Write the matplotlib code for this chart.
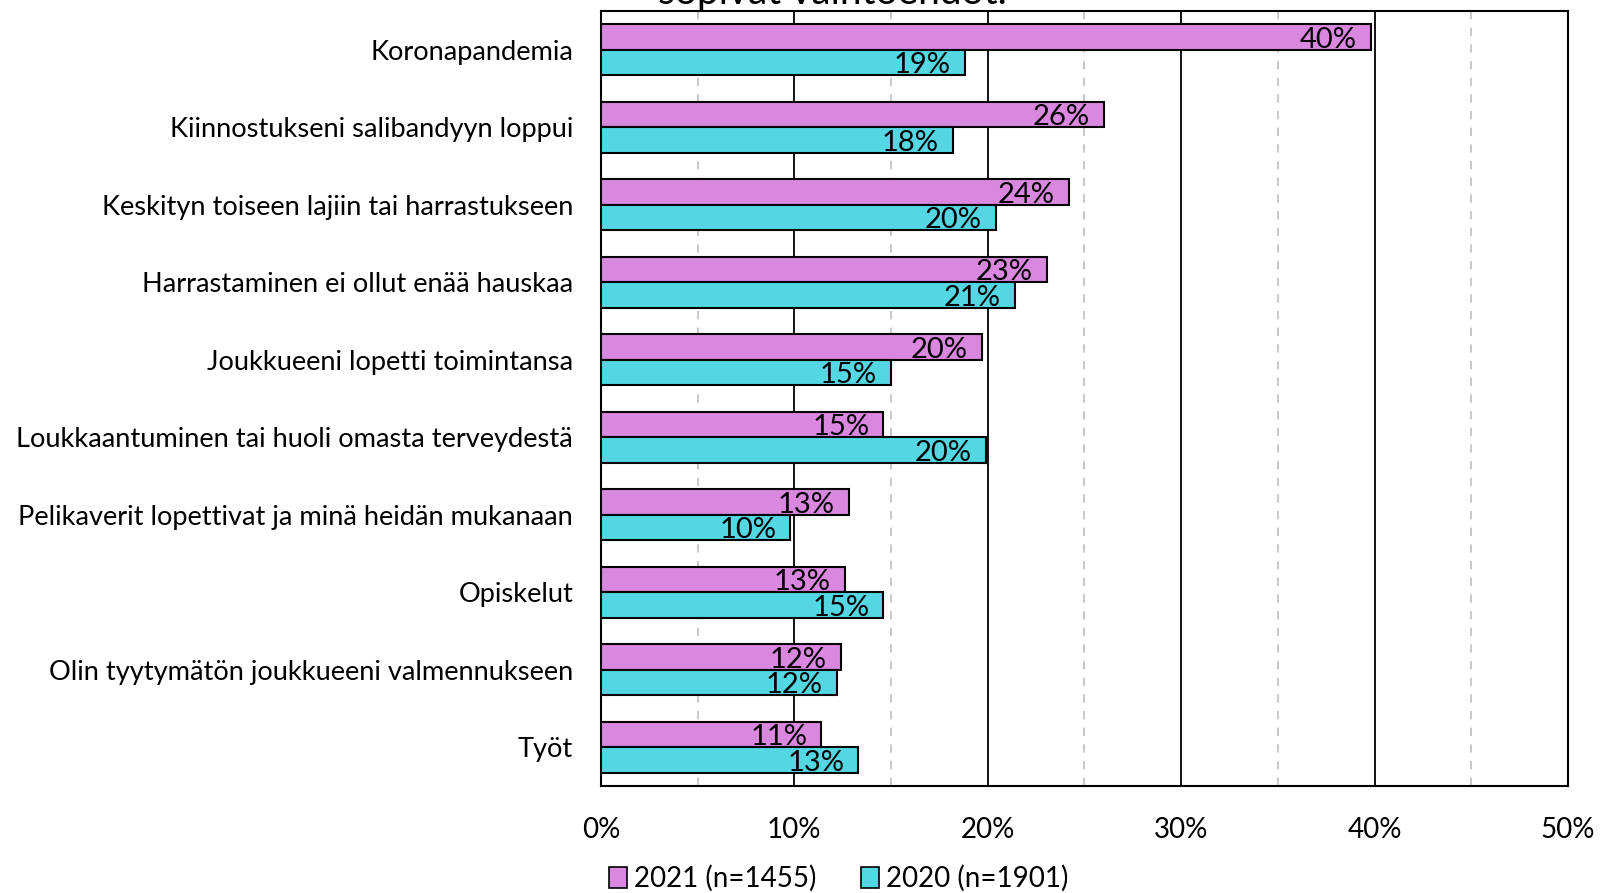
import matplotlib.pyplot as plt
import numpy as np
from matplotlib.patches import Patch

plt.rcParams['font.family'] = ['Lato', 'DejaVu Sans']

categories = ['Koronapandemia',
              'Kiinnostukseni salibandyyn loppui',
              'Keskityn toiseen lajiin tai harrastukseen',
              'Harrastaminen ei ollut enää hauskaa',
              'Joukkueeni lopetti toimintansa',
              'Loukkaantuminen tai huoli omasta terveydestä',
              'Pelikaverit lopettivat ja minä heidän mukanaan',
              'Opiskelut',
              'Olin tyytymätön joukkueeni valmennukseen',
              'Työt']
vals_2021 = [39.8, 26.0, 24.2, 23.05, 19.7, 14.6, 12.8, 12.6, 12.4, 11.4]
vals_2020 = [18.8, 18.2, 20.4, 21.4, 15.0, 19.9, 9.8, 14.6, 12.2, 13.3]
labels_2021 = ['40%', '26%', '24%', '23%', '20%', '15%', '13%', '13%', '12%', '11%']
labels_2020 = ['19%', '18%', '20%', '21%', '15%', '20%', '10%', '15%', '12%', '13%']
series_names = ['2021 (n=1455)', '2020 (n=1901)']
xticks = [0, 10, 20, 30, 40, 50]

pink = '#DA87E0'
cyan = '#55D6E3'

fig = plt.figure(figsize=(16, 8.93), dpi=100)
ax = fig.add_axes([0.3756, 0.1198, 0.6044, 0.868])

y = np.arange(len(categories))
h = 0.33
b1 = ax.barh(y - h / 2, vals_2021, height=h, color=pink, edgecolor='black', linewidth=1.5, zorder=3)
b2 = ax.barh(y + h / 2, vals_2020, height=h, color=cyan, edgecolor='black', linewidth=1.5, zorder=3)

# value labels sit inside the bar end
for bars, vals, labs in [(b1, vals_2021, labels_2021), (b2, vals_2020, labels_2020)]:
    for bar, v, lab in zip(bars, vals, labs):
        ax.annotate(lab, (v, bar.get_y() + bar.get_height() / 2),
                    xytext=(-10, -2), textcoords='offset points',
                    ha='right', va='center', fontsize=21, zorder=4)

ax.set_xlim(0, 50)
ax.set_ylim(9.5, -0.5)
ax.set_yticks(y)
ax.set_yticklabels(categories, fontsize=19.6)
ax.set_xticks(xticks)
ax.set_xticklabels(['%d%%' % t for t in xticks], fontsize=20)
ax.set_xticks([5, 15, 25, 35, 45], minor=True)
ax.tick_params(axis='x', which='both', length=0, pad=22)
ax.tick_params(axis='y', length=0, pad=20)
ax.grid(axis='x', which='major', color='black', linewidth=1.3, zorder=0)
ax.grid(axis='x', which='minor', color='#BFBFBF', linewidth=1.2, linestyle=(0, (5, 5)), zorder=0)
for sp in ax.spines.values():
    sp.set_linewidth(1.5)

handles = [Patch(facecolor=pink, edgecolor='black', linewidth=1.2),
           Patch(facecolor=cyan, edgecolor='black', linewidth=1.2)]
fig.legend(handles, series_names, loc='center left', bbox_to_anchor=(0.365, 0.016),
           ncol=2, frameon=False, fontsize=20, handlelength=0.65, handleheight=0.8,
           handletextpad=0.25, columnspacing=1.6)

# title is cut off at the top edge in the original
fig.text(0.52, 1 - 4 / 893, 'sopivat vaihtoehdot.', ha='center', va='baseline', fontsize=28)

fig.savefig('out.png', dpi=100)
